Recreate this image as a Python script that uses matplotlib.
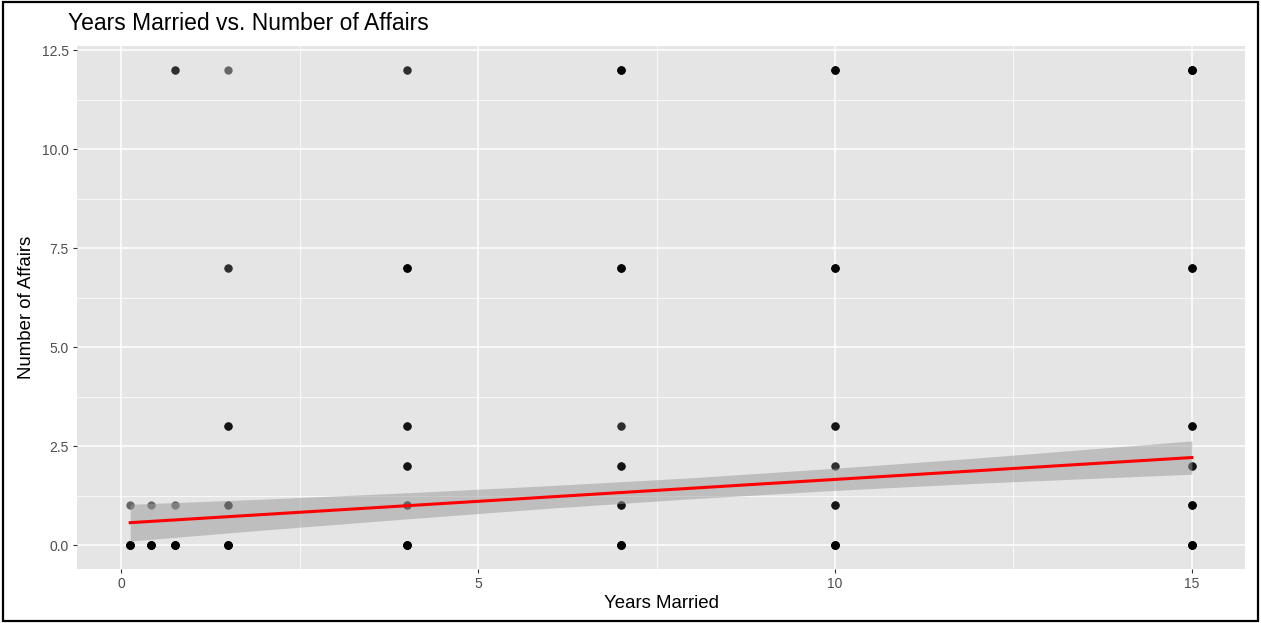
import numpy as np
import matplotlib
matplotlib.use('Agg')
import matplotlib.pyplot as plt
from matplotlib.patches import Rectangle

plt.rcParams['font.family'] = ['Liberation Sans', 'DejaVu Sans']

### Points: (years married, affairs) and how many observations overlap there ###
pt_years = [0.125, 0.125, 0.417, 0.417, 0.75, 0.75, 0.75,
            1.5, 1.5, 1.5, 1.5, 1.5,
            4, 4, 4, 4, 4, 4,
            7, 7, 7, 7, 7, 7,
            10, 10, 10, 10, 10, 10,
            15, 15, 15, 15, 15, 15]
pt_affairs = [0, 1, 0, 1, 0, 1, 12,
              0, 1, 3, 7, 12,
              0, 1, 2, 3, 7, 12,
              0, 1, 2, 3, 7, 12,
              0, 1, 2, 3, 7, 12,
              0, 1, 2, 3, 7, 12]
pt_count = [8, 1, 8, 1, 8, 1, 2,
            8, 2, 3, 2, 1,
            8, 2, 3, 3, 5, 2,
            8, 3, 3, 2, 5, 5,
            8, 3, 2, 3, 5, 5,
            8, 5, 3, 4, 5, 8]

### Linear fit and 95% band ###
fit_x = [0.125, 2, 4, 6, 8, 10, 12, 15]
fit_y = [0.565, 0.772, 0.993, 1.215, 1.436, 1.657, 1.878, 2.21]
fit_lo = [0.10, 0.38, 0.66, 0.93, 1.17, 1.38, 1.56, 1.79]
fit_hi = [1.03, 1.16, 1.32, 1.50, 1.70, 1.94, 2.20, 2.63]

x_ticks = [0, 5, 10, 15]
y_ticks = [0.0, 2.5, 5.0, 7.5, 10.0, 12.5]

fig = plt.figure(figsize=(12.61, 6.23), dpi=100)
ax = fig.add_axes([0.0611, 0.087, 0.9262, 0.839])
ax.set_facecolor('#e5e5e5')

# overlapping translucent points
xs = np.repeat(pt_years, pt_count)
ys = np.repeat(pt_affairs, pt_count)
ax.scatter(xs, ys, s=36, color='black', alpha=0.55, linewidths=0, zorder=3)

ax.fill_between(fit_x, fit_lo, fit_hi, color='#999999', alpha=0.5, linewidth=0, zorder=4)
ax.plot(fit_x, fit_y, color='#ff0000', linewidth=2.2, zorder=5)

ax.set_xlim(-0.62, 15.744)
ax.set_ylim(-0.6, 12.6)
ax.set_xticks(x_ticks)
ax.set_xticklabels([str(v) for v in x_ticks])
ax.set_yticks(y_ticks)
ax.set_yticklabels(['%.1f' % v for v in y_ticks])
ax.set_xticks([2.5, 7.5, 12.5], minor=True)
ax.set_yticks([1.25, 3.75, 6.25, 8.75, 11.25], minor=True)
ax.grid(which='major', color='white', linewidth=1.1, zorder=0)
ax.grid(which='minor', color='white', linewidth=0.55, zorder=0)
ax.set_axisbelow(True)
ax.tick_params(which='major', length=3, width=0.8, color='#333333',
               labelcolor='#4d4d4d', labelsize=10, pad=3)
ax.tick_params(which='minor', length=0)
for sp in ax.spines.values():
    sp.set_visible(False)

ax.set_xlabel('Years Married', fontsize=13.4, labelpad=3)
ax.set_ylabel('Number of Affairs', fontsize=13.4, labelpad=5)
fig.text(68 / 1261, 1 - 23 / 623, 'Years Married vs. Number of Affairs',
         fontsize=16.5, ha='left', va='center')

# black frame around the whole picture
fig.patches.append(Rectangle((0.002, 0.003), 0.996, 0.994, transform=fig.transFigure,
                             fill=False, edgecolor='black', linewidth=1.6))

fig.savefig('out.png', dpi=100)
